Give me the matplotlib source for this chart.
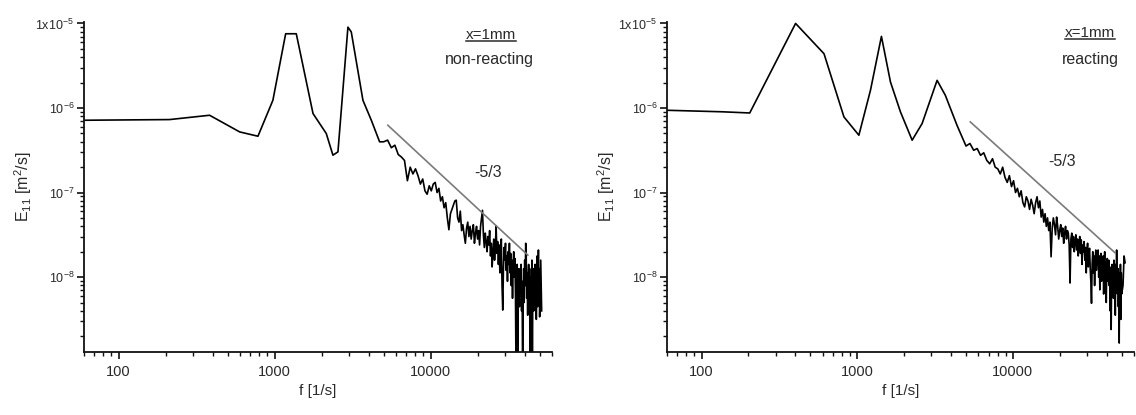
import numpy as np
import matplotlib
matplotlib.use("Agg")
import matplotlib.pyplot as plt
from matplotlib.ticker import FixedLocator, FixedFormatter, LogLocator, NullFormatter
from matplotlib.lines import Line2D

plt.rcParams['font.family'] = ['Liberation Sans', 'DejaVu Sans']
plt.rcParams['mathtext.default'] = 'regular'

# ---------------- data ----------------
# low-frequency part, left panel (non-reacting)
f_low_left = [60, 212, 383, 597, 782, 975, 1177, 1377, 1763, 2144, 2365, 2547,
              2951, 3100, 3683, 4168, 4710]
log10E_low_left = [-6.145, -6.137, -6.086, -6.283, -6.334, -5.909, -5.122, -5.122,
                   -6.066, -6.302, -6.558, -6.519, -5.044, -5.100, -5.909, -6.145, -6.400]

# low-frequency part, right panel (reacting)
f_low_right = [60, 136, 204, 402, 612, 822, 1025, 1217, 1431, 1636, 1897, 2254,
               2612, 3260, 3683, 4375]
log10E_low_right = [-6.027, -6.045, -6.059, -5.000, -5.358, -6.106, -6.322, -5.790,
                    -5.153, -5.693, -6.047, -6.381, -6.184, -5.673, -5.850, -6.204]

# high-frequency (noisy) part, common frequency bins
f_hi = [5000, 5300, 5600, 5900, 6200, 6500, 6800, 7100, 7400, 7700,
        8000, 8300, 8600, 8900, 9200, 9500, 9800, 10100, 10400, 10700,
        11000, 11300, 11600, 11900, 12200, 12500, 12800, 13100, 13400, 13700,
        14000, 14300, 14600, 14900, 15200, 15500, 15800, 16100, 16400, 16700,
        17000, 17300, 17600, 17900, 18200, 18500, 18800, 19100, 19400, 19700,
        20000, 20300, 20600, 20900, 21200, 21500, 21800, 22100, 22400, 22700,
        23000, 23300, 23600, 23900, 24200, 24500, 24800, 25100, 25400, 25700,
        26000, 26300, 26600, 26900, 27200, 27500, 27800, 28100, 28400, 28700,
        29000, 29300, 29600, 29900, 30200, 30500, 30800, 31100, 31400, 31700,
        32000, 32300, 32600, 32900, 33200, 33500, 33800, 34100, 34400, 34700,
        35000, 35300, 35600, 35900, 36200, 36500, 36800, 37100, 37400, 37700,
        38000, 38300, 38600, 38900, 39200, 39500, 39800, 40100, 40400, 40700,
        41000, 41300, 41600, 41900, 42200, 42500, 42800, 43100, 43400, 43700,
        44000, 44300, 44600, 44900, 45200, 45500, 45800, 46100, 46400, 46700,
        47000, 47300, 47600, 47900, 48200, 48500, 48800, 49100, 49400, 49700,
        50000]

log10E_hi_left = [
    -6.40, -6.38, -6.47, -6.44, -6.55, -6.58, -6.62, -6.86, -6.70, -6.78,
    -6.72, -6.80, -6.90, -6.84, -6.98, -7.02, -6.92, -6.98, -6.90, -6.88,
    -7.00, -6.95, -7.10, -7.05, -7.18, -7.12, -7.30, -7.44, -7.25, -7.20,
    -7.15, -7.10, -7.09, -7.30, -7.35, -7.22, -7.45, -7.38, -7.50, -7.60,
    -7.42, -7.35, -7.52, -7.40, -7.55, -7.45, -7.38, -7.60, -7.48, -7.40,
    -7.55, -7.45, -7.62, -7.40, -7.30, -7.21, -7.50, -7.65, -7.48, -7.58,
    -7.70, -7.52, -7.62, -7.45, -7.75, -7.60, -7.88, -7.70, -7.55, -7.80,
    -7.65, -7.40, -7.72, -7.58, -7.85, -7.62, -7.95, -7.70, -7.55, -8.10,
    -8.39, -7.90, -7.65, -7.80, -7.60, -7.92, -7.75, -8.05, -7.70, -7.85,
    -7.60, -7.95, -7.72, -8.10, -7.80, -8.25, -7.85, -7.70, -8.00, -7.78,
    -8.20, -9.20, -8.30, -7.85, -9.20, -8.10, -7.90, -8.35, -7.95, -8.15,
    -7.85, -8.40, -8.05, -9.20, -8.20, -7.90, -8.30, -7.80, -8.10, -7.60,
    -7.75, -8.25, -7.95, -8.45, -8.00, -7.85, -8.30, -7.90, -9.20, -8.35,
    -8.00, -8.20, -7.80, -9.20, -8.10, -7.90, -8.40, -8.00, -8.25, -7.85,
    -8.30, -7.95, -8.50, -8.05, -7.75, -8.35, -8.00, -7.68, -8.30, -7.90,
    -8.47]

log10E_hi_right = [
    -6.45, -6.42, -6.50, -6.48, -6.56, -6.53, -6.62, -6.66, -6.60, -6.70,
    -6.72, -6.78, -6.70, -6.82, -6.88, -6.80, -6.93, -6.86, -7.00, -6.95,
    -7.05, -6.98, -7.12, -7.17, -7.05, -7.10, -7.20, -7.08, -7.15, -7.25,
    -7.12, -7.05, -7.18, -7.10, -7.29, -7.20, -7.35, -7.25, -7.40, -7.30,
    -7.45, -7.35, -7.76, -7.42, -7.30, -7.38, -7.50, -7.29, -7.40, -7.55,
    -7.45, -7.38, -7.52, -7.42, -7.60, -7.48, -7.40, -7.55, -7.45, -7.48,
    -7.62, -8.07, -7.55, -7.48, -7.65, -7.52, -7.70, -7.58, -7.50, -7.68,
    -7.55, -7.75, -7.60, -7.52, -7.72, -7.56, -7.85, -7.62, -7.70, -7.58,
    -7.80, -7.65, -7.95, -7.70, -7.60, -7.88, -7.72, -7.66, -7.90, -8.05,
    -8.31, -7.85, -7.70, -7.95, -7.75, -8.10, -7.80, -7.68, -7.92, -7.78,
    -7.85, -7.68, -8.00, -7.75, -8.15, -7.85, -7.72, -8.05, -7.80, -7.95,
    -7.75, -8.20, -7.85, -7.70, -8.00, -7.82, -8.30, -7.90, -7.78, -8.05,
    -7.95, -7.80, -8.10, -7.88, -8.40, -7.92, -8.62, -8.00, -7.85, -8.15,
    -7.90, -8.25, -7.80, -8.05, -7.95, -8.45, -7.85, -8.10, -7.68, -8.00,
    -8.20, -7.90, -8.35, -8.05, -8.78, -7.95, -8.15, -7.85, -8.50, -7.95,
    -8.20]

# tail beyond the common bins
f_tail_left = [50800, 51500]
log10E_tail_left = [-7.80, -8.40]
f_tail_right = [51000, 51800, 52600]
log10E_tail_right = [-8.10, -7.75, -7.83]

# -5/3 reference lines (end points)
slope_f_left = [5320, 42000]
slope_E_left = [6.25e-7, 1.82e-8]
slope_f_right = [5330, 45300]
slope_E_right = [6.84e-7, 1.94e-8]

panel_titles = ["non-reacting", "reacting"]
position_label = "x=1mm"
slope_label = "-5/3"
xtick_values = [100, 1000, 10000]
xtick_labels = ["100", "1000", "10000"]
ytick_values = [1e-5, 1e-6, 1e-7, 1e-8]
ytick_labels = ["1x10$^{-5}$", "10$^{-6}$", "10$^{-7}$", "10$^{-8}$"]
xlabel = "f [1/s]"
ylabel = "E$_{11}$ [m$^2$/s]"

# ---------------- figure ----------------
fig = plt.figure(figsize=(11.36, 4.15), dpi=100)
ax_l = fig.add_axes([84/1136, 1-352/415, 468/1136, 330/415])
ax_r = fig.add_axes([667/1136, 1-352/415, 467/1136, 330/415])

text_col = "#2a2a2a"

panels = [
    (ax_l, f_low_left + f_hi + f_tail_left,
     log10E_low_left + log10E_hi_left + log10E_tail_left,
     slope_f_left, slope_E_left, panel_titles[0],
     (0.87, 0.96), (0.867, 0.885), (0.863, 0.545)),
    (ax_r, f_low_right + f_hi + f_tail_right,
     log10E_low_right + log10E_hi_right + log10E_tail_right,
     slope_f_right, slope_E_right, panel_titles[1],
     (0.906, 0.967), (0.906, 0.885), (0.846, 0.576)),
]

for ax, f, logE, sf, sE, title, p_pos, t_pos, s_pos in panels:
    E = 10.0 ** np.asarray(logE)
    ax.plot(f, E, color="black", lw=1.2)
    ax.plot(sf, sE, color="#7a7a7a", lw=1.2)
    ax.set_xscale("log")
    ax.set_yscale("log")
    ax.set_xlim(60, 60000)
    ax.set_ylim(1.3e-9, 1.04e-5)
    for s in ["top", "right"]:
        ax.spines[s].set_visible(False)
    for s in ["left", "bottom"]:
        ax.spines[s].set_linewidth(1.3)
        ax.spines[s].set_color("#111111")
    ax.xaxis.set_major_locator(FixedLocator(xtick_values))
    ax.xaxis.set_major_formatter(FixedFormatter(xtick_labels))
    ax.xaxis.set_minor_locator(LogLocator(base=10, subs=np.arange(2, 10)))
    ax.xaxis.set_minor_formatter(NullFormatter())
    ax.yaxis.set_major_locator(FixedLocator(ytick_values))
    ax.yaxis.set_major_formatter(FixedFormatter(ytick_labels))
    ax.yaxis.set_minor_locator(LogLocator(base=10, subs=np.arange(2, 10)))
    ax.yaxis.set_minor_formatter(NullFormatter())
    ax.tick_params(axis="both", which="major", direction="out", length=5, width=1.2,
                   color="#111111")
    ax.tick_params(axis="both", which="minor", direction="out", length=3, width=1.0,
                   color="#111111")
    ax.tick_params(axis="x", labelsize=10.5, labelcolor=text_col, pad=4)
    ax.tick_params(axis="y", labelsize=9, labelcolor=text_col, pad=2)
    ax.set_xlabel(xlabel, fontsize=11, color=text_col, labelpad=4)
    ax.set_ylabel(ylabel, fontsize=11.5, color=text_col, labelpad=1)
    ax.text(*p_pos, position_label, transform=ax.transAxes, ha="center", va="center",
            fontsize=11, color=text_col)
    ax.text(*t_pos, title, transform=ax.transAxes, ha="center", va="center",
            fontsize=11.5, color=text_col)
    ax.text(*s_pos, slope_label, transform=ax.transAxes, ha="center", va="center",
            fontsize=11.5, color=text_col)

# underline the position labels
fig.canvas.draw()
renderer = fig.canvas.get_renderer()
for ax in (ax_l, ax_r):
    for t in ax.texts:
        if t.get_text() == position_label:
            bb = t.get_window_extent(renderer=renderer)
            inv = fig.transFigure.inverted()
            (x0, y0) = inv.transform((bb.x0, bb.y0 + 1))
            (x1, _) = inv.transform((bb.x1, bb.y0 + 1))
            fig.add_artist(Line2D([x0, x1], [y0, y0], transform=fig.transFigure,
                                  color=text_col, lw=1.1))

fig.savefig("out.png", dpi=100)
